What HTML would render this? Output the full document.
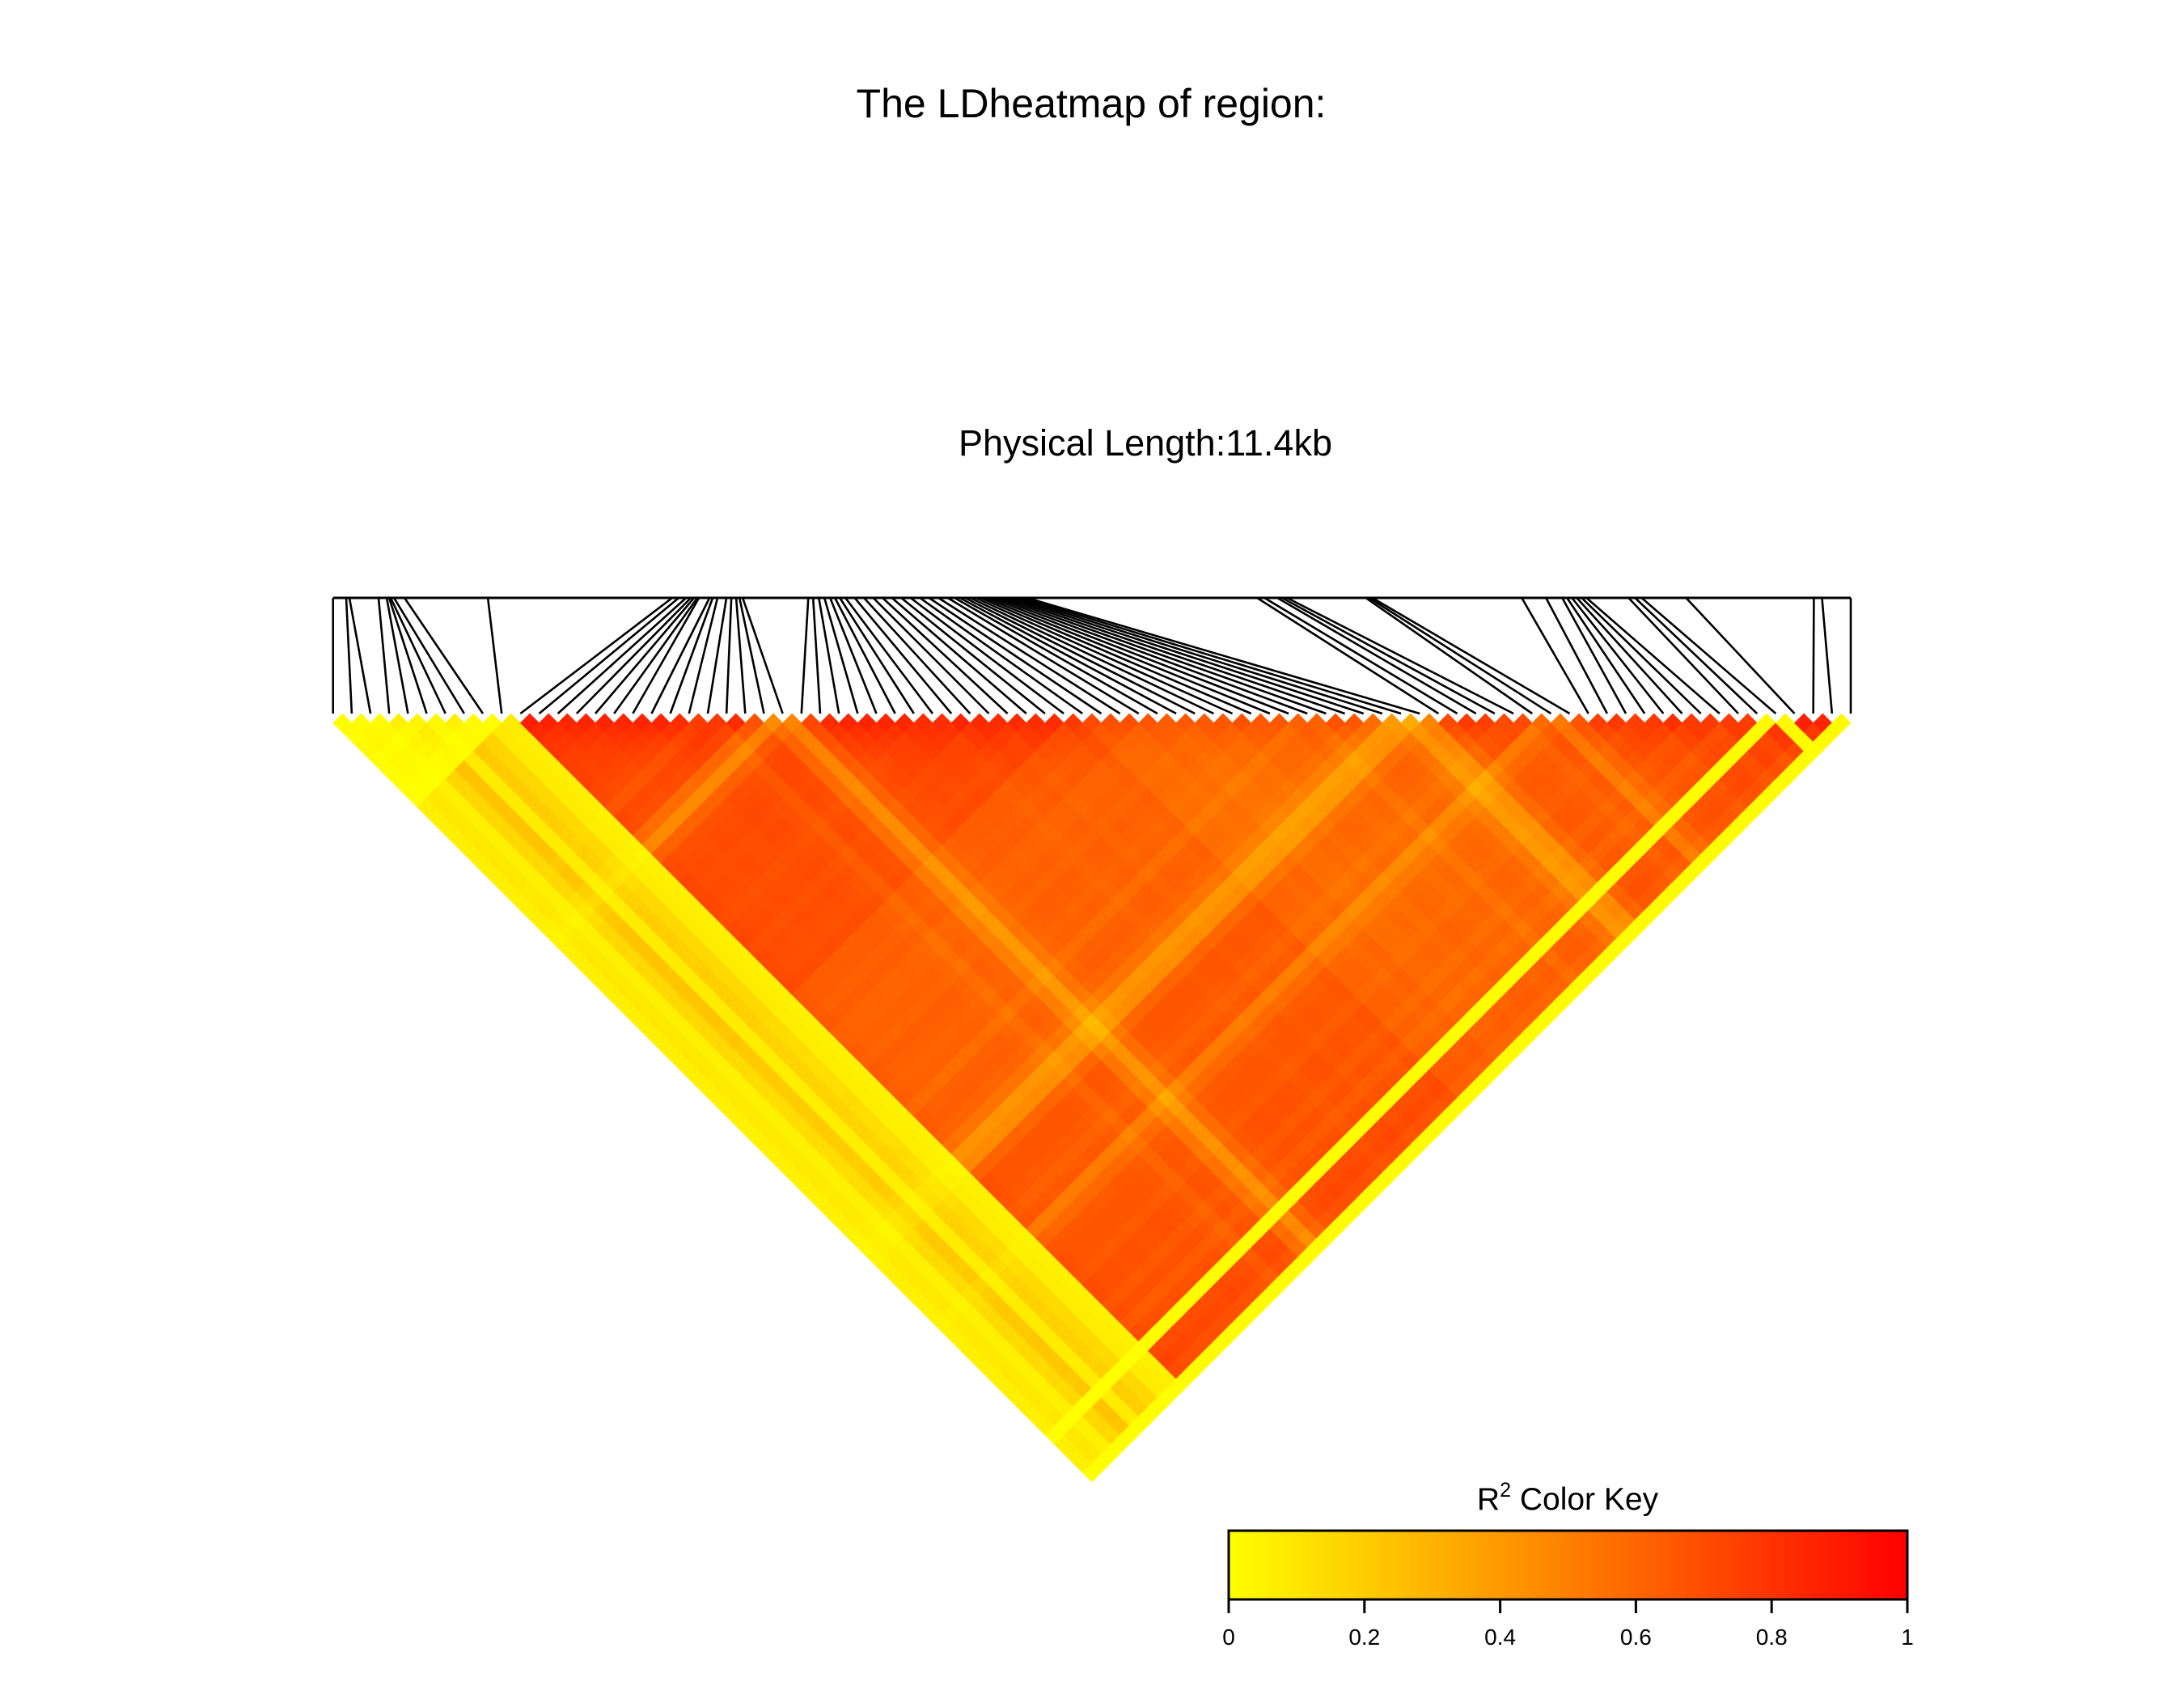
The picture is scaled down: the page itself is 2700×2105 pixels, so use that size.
<!DOCTYPE html>
<html>
<head>
<meta charset="utf-8">
<style>
html,body{margin:0;padding:0;background:#fff;}
body{width:2700px;height:2100px;overflow:hidden;}
svg text{font-family:"Liberation Sans",Arial,sans-serif;fill:#000;}
</style>
</head>
<body>
<svg id="chart" width="2700" height="2100" viewBox="0 0 2700 2100" xmlns="http://www.w3.org/2000/svg">
  <rect x="0" y="0" width="2700" height="2100" fill="#fff"/>
  <text x="1349" y="145" font-size="50" text-anchor="middle">The LDheatmap of region:</text>
  <text x="1416" y="563" font-size="45" text-anchor="middle">Physical Length:11.4kb</text>
  <g id="genemap"></g>
  <g id="cells"></g>
  <g id="key">
    <defs>
      <linearGradient id="keygrad" x1="0" x2="1" y1="0" y2="0">
        <stop offset="0" stop-color="#ffff00"/>
        <stop offset="1" stop-color="#ff0000"/>
      </linearGradient>
    </defs>
    <text x="1938" y="1866" font-size="39" text-anchor="middle">R<tspan dy="-16" font-size="25">2</tspan><tspan dy="16"> Color Key</tspan></text>
    <rect x="1519" y="1892" width="839" height="85" fill="url(#keygrad)" stroke="#000" stroke-width="3"/>
    <g id="keyticks"></g>
  </g>
</svg>
<script>
// ---- data ----
// SNP physical positions (bp) over the 11.4kb region
const snpPositions = [0,99,123,342,403,421,433,458,537,1163,
2548,2597,2652,2688,2712,2737,2749,2828,2852,2888,
2955,2992,3028,3053,3077,3570,3606,3649,3691,3734,
3770,3807,3849,3918,3988,4058,4128,4198,4268,4338,
4408,4477,4547,4617,4669,4708,4747,4786,4825,4864,
4902,4941,4980,5019,5058,5097,5136,5175,5213,6941,
6996,7093,7129,7166,7758,7783,7807,8929,9111,9233,
9269,9306,9342,9379,9415,9731,9780,9829,10163,11123,
11184,11400];
// per-SNP LD strength
const snpStrength = [0.08,0.12,0.08,0.2,0.3,0.1,0.25,0.2,0.1,0.08,
0.95,0.93,0.93,0.92,0.93,0.92,0.92,0.93,0.92,0.9,
0.85,0.92,0.9,0.75,0.6,0.8,0.9,0.92,0.93,0.92,
0.93,0.92,0.9,0.92,0.93,0.9,0.92,0.91,0.9,0.92,
0.84,0.84,0.82,0.84,0.8,0.8,0.82,0.8,0.83,0.82,
0.8,0.82,0.76,0.82,0.83,0.8,0.72,0.55,0.6,0.8,
0.88,0.88,0.86,0.82,0.86,0.68,0.78,0.86,0.88,0.88,
0.86,0.9,0.9,0.86,0.9,0.85,0.9,0.02,0.92,0.95,
0.9,0.02];
const regionLength = 11400;
const keyTicks = [0,0.2,0.4,0.6,0.8,1];
const keyTickLabels = ["0","0.2","0.4","0.6","0.8","1"];

(function () {
const NS = "http://www.w3.org/2000/svg";
const X0 = 411.7, X1 = 2288, Y0 = 882, MAPTOP = 739;
const N = snpPositions.length;
const D = (X1 - X0) / (N - 1);

function r2(i, j) {
  const v = snpStrength[i] * snpStrength[j] * (0.82 + 0.18 * Math.exp(-(j - i - 1) / 3));
  return Math.max(0, Math.min(1, v));
}
function colorOf(v) {
  return "rgb(255," + Math.round(255 * (1 - v)) + ",0)";
}
function xPos(bp) { return X0 + bp / regionLength * (X1 - X0); }

const gm = document.getElementById("genemap");
const mapTop = document.createElementNS(NS, "line");
mapTop.setAttribute("x1", X0); mapTop.setAttribute("x2", X1);
mapTop.setAttribute("y1", MAPTOP); mapTop.setAttribute("y2", MAPTOP);
mapTop.setAttribute("stroke", "#000"); mapTop.setAttribute("stroke-width", "3");


gm.appendChild(mapTop);
for (let k = 0; k < N; k++) {
  const l = document.createElementNS(NS, "line");
  l.setAttribute("x1", xPos(snpPositions[k]));
  l.setAttribute("y1", MAPTOP);
  l.setAttribute("x2", X0 + k * D);
  l.setAttribute("y2", Y0);
  l.setAttribute("stroke", "#000");
  l.setAttribute("stroke-width", "2.6");
  
  
  gm.appendChild(l);
}

const cg = document.getElementById("cells");
const h = D / 2;
for (let i = 0; i < N; i++) {
  for (let j = i + 1; j < N; j++) {
    const cx = X0 + (i + j) / 2 * D;
    const cy = Y0 + (j - i) * h;
    const p = document.createElementNS(NS, "polygon");
    p.setAttribute("points", cx + "," + (cy - h) + " " + (cx + h) + "," + cy + " " + cx + "," + (cy + h) + " " + (cx - h) + "," + cy);
    const c = colorOf(r2(i, j));
    p.setAttribute("fill", c);
    p.setAttribute("stroke", c);
    p.setAttribute("stroke-width", "0.6");
    
    
    cg.appendChild(p);
  }
}

const kt = document.getElementById("keyticks");
const KX0 = 1519, KX1 = 2358, KY = 1977;
for (let t = 0; t < keyTicks.length; t++) {
  const x = KX0 + keyTicks[t] * (KX1 - KX0);
  const l = document.createElementNS(NS, "line");
  l.setAttribute("x1", x); l.setAttribute("x2", x);
  l.setAttribute("y1", KY); l.setAttribute("y2", KY + 17);
  l.setAttribute("stroke", "#000"); l.setAttribute("stroke-width", "3");
  
  
  kt.appendChild(l);
  const tx = document.createElementNS(NS, "text");
  tx.setAttribute("x", x); tx.setAttribute("y", 2033);
  tx.setAttribute("font-size", "28");
  tx.setAttribute("text-anchor", "middle");
  tx.textContent = keyTickLabels[t];
  
  
  kt.appendChild(tx);
}
})();
</script>
</body>
</html>
